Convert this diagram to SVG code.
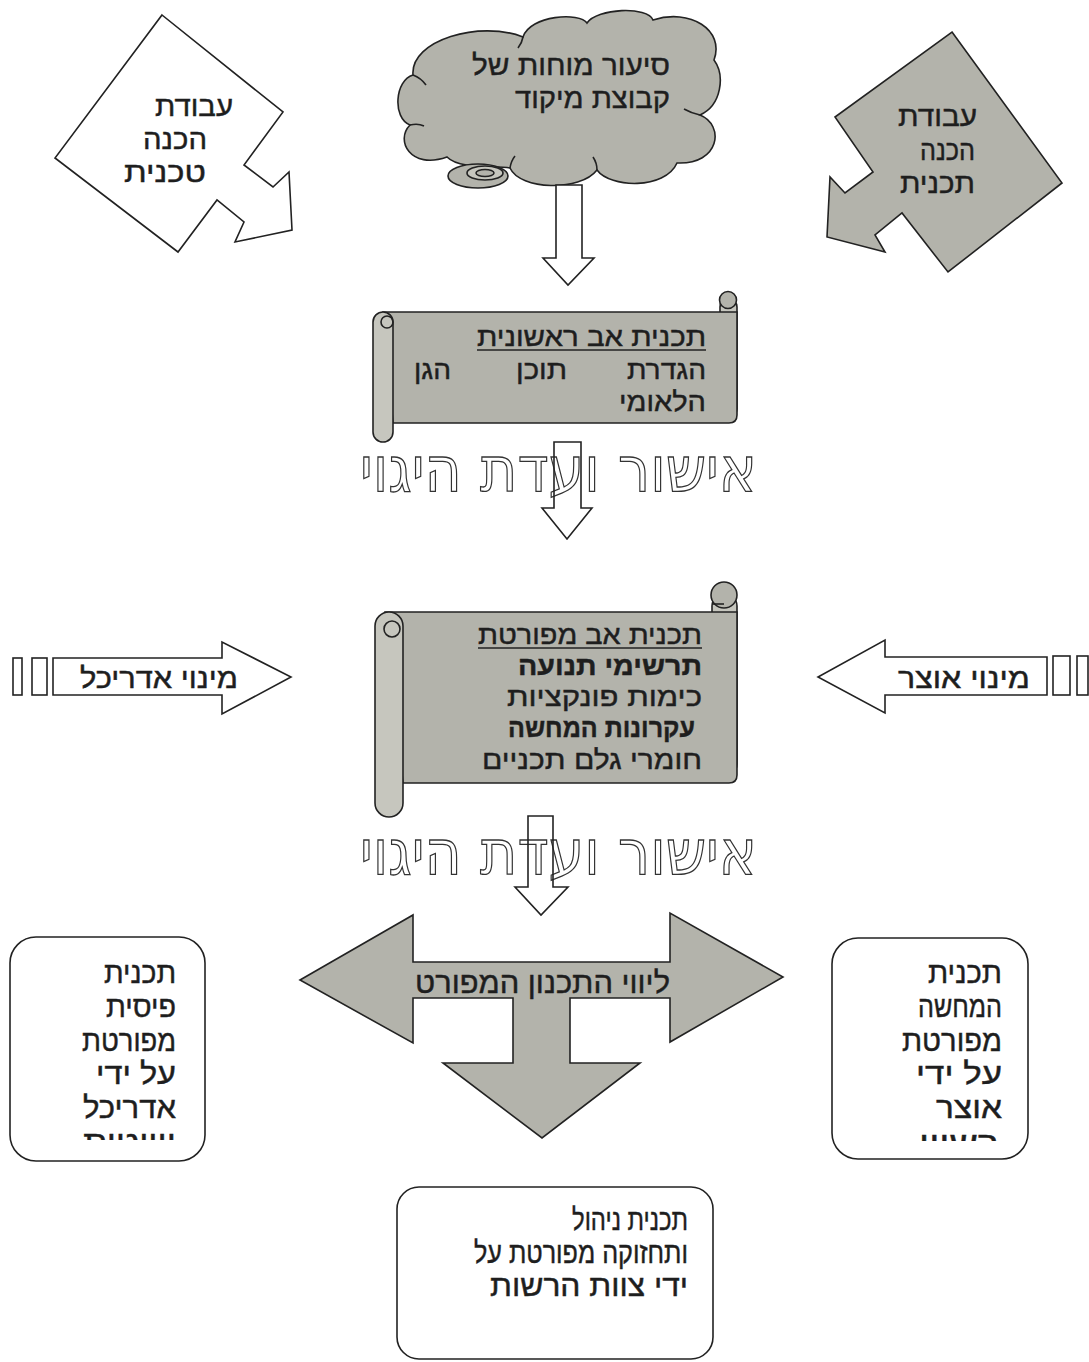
<svg xmlns="http://www.w3.org/2000/svg" width="1089" height="1362" viewBox="0 0 1089 1362">
<style>
.t{font-family:"Liberation Sans","DejaVu Sans",sans-serif;fill:#1e1e1e;stroke:#1e1e1e;stroke-width:0.45;text-anchor:end;}
.s{stroke:#222;stroke-width:1.6;stroke-linejoin:miter;}
.w{fill:#ffffff;}
.g{fill:#b3b3ab;}
.gl{fill:#c6c6be;}
.n{fill:none;}
.big{font-family:"DejaVu Sans","Liberation Sans",sans-serif;fill:#ffffff;stroke:#333;stroke-width:1.3;text-anchor:end;}
.b{font-weight:bold;}
</style>
<defs>
<clipPath id="clipL"><rect x="10" y="1124" width="195" height="16"/></clipPath>
<clipPath id="clipR"><rect x="832" y="1124" width="196" height="17"/></clipPath>
</defs>
<rect width="1089" height="1362" fill="#ffffff"/>

<g id="prep-technical">
<path class="s w" d="M162,15 L283,112 L244,165 L273,187 L289,172 L292,230 L235,242 L244,222 L217,200 L178,252 L55,158 Z"/>
<text class="t" x="233" y="116" font-size="28" textLength="78" lengthAdjust="spacingAndGlyphs">עבודת</text>
<text class="t" x="207" y="149" font-size="28" textLength="64" lengthAdjust="spacingAndGlyphs">הכנה</text>
<text class="t" x="206" y="182" font-size="28" textLength="82" lengthAdjust="spacingAndGlyphs">טכנית</text>
</g>

<g id="brainstorm">
<path class="s g" d="M410,125 C392,118 395,80 413,75 C410,40 480,20 523,37 C530,15 580,12 587,23 C597,8 648,6 653,20 C690,8 725,30 714,60 C725,75 722,105 700,115 C725,125 720,165 677,163 C665,190 610,188 597,170 C580,192 520,190 510,168 C495,165 460,170 447,157 C410,170 395,140 410,125 Z"/>
<path class="s n" d="M413,75 Q421,78 426,85 M523,37 Q522,43 518,48 M700,115 Q691,113 684,109 M597,170 Q597,163 593,157 M510,168 Q511,161 515,156 M410,125 Q418,123 424,126"/>
<ellipse class="s g" cx="478" cy="176" rx="30" ry="12"/>
<ellipse class="s gl" cx="485" cy="173" rx="18" ry="7"/>
<ellipse class="s g" cx="485" cy="173" rx="9" ry="3.5"/>
<text class="t" x="670" y="75" font-size="28" textLength="198" lengthAdjust="spacingAndGlyphs">סיעור מוחות של</text>
<text class="t" x="670" y="108" font-size="28" textLength="155" lengthAdjust="spacingAndGlyphs">קבוצת מיקוד</text>
</g>

<g id="prep-plan">
<path class="s g" d="M952,32 L1062,183 L948,272 L902,213 L875,235 L885,252 L827,237 L830,177 L845,193 L873,172 L835,117 Z"/>
<text class="t" x="977" y="126" font-size="28" textLength="79" lengthAdjust="spacingAndGlyphs">עבודת</text>
<text class="t" x="975" y="160" font-size="28" textLength="55" lengthAdjust="spacingAndGlyphs">הכנה</text>
<text class="t" x="975" y="193" font-size="28" textLength="75" lengthAdjust="spacingAndGlyphs">תכנית</text>
</g>

<g id="connectors">
<path class="s w" d="M556,185 H582 V258 H594 L568,285 L543,258 H556 Z"/>
<path class="s w" d="M53,658 H222 V642 L291,677 L222,714 V695 H53 Z"/>
<rect class="s w" x="13" y="658" width="9" height="37"/>
<rect class="s w" x="32" y="658" width="15" height="37"/>
<path class="s w" d="M1047,657 H885 V640 L818,677 L885,713 V695 H1047 Z"/>
<rect class="s w" x="1053" y="656" width="17" height="39"/>
<rect class="s w" x="1077" y="656" width="11" height="39"/>
</g>

<g id="master-plan-initial">
<rect class="s gl" x="720" y="299" width="17" height="118" rx="8"/>
<path class="s g" d="M383,312 H737 V415 Q737,423 729,423 H393 Z"/>
<circle class="s g" cx="728" cy="300" r="8.5"/>
<rect class="s gl" x="373" y="312" width="20" height="130" rx="10"/>
<circle class="s n" cx="387" cy="322" r="6"/>
<text class="t" x="706" y="346" font-size="27" textLength="229" lengthAdjust="spacingAndGlyphs">תכנית אב ראשונית</text>
<line class="s" x1="477" y1="350" x2="706" y2="350" stroke-width="1.4"/>
<text class="t" x="706" y="379" font-size="27" textLength="79" lengthAdjust="spacingAndGlyphs">הגדרת</text>
<text class="t" x="567" y="379" font-size="27" textLength="51" lengthAdjust="spacingAndGlyphs">תוכן</text>
<text class="t" x="451" y="379" font-size="27" textLength="37" lengthAdjust="spacingAndGlyphs">הגן</text>
<text class="t" x="706" y="411" font-size="27" textLength="87" lengthAdjust="spacingAndGlyphs">הלאומי</text>
</g>

<g id="approval-1">
<text class="big" x="757" y="491" font-size="63" textLength="397" lengthAdjust="spacingAndGlyphs">אישור ועדת היגוי</text>
<path class="s n" d="M554,442 H581 V508 H592 L567,539 L542,508 H554 Z"/>
</g>

<g id="master-plan-detailed">
<rect class="s gl" x="712" y="594" width="25" height="182" rx="12"/>
<path class="s g" d="M385,612 H737 V775 Q737,783 729,783 H403 Z"/>
<circle class="s g" cx="724" cy="595" r="13"/>
<path class="s n" d="M712,604 H724"/>
<rect class="s gl" x="375" y="612" width="28" height="205" rx="14"/>
<circle class="s n" cx="392" cy="629" r="8"/>
<text class="t" x="702" y="644" font-size="27" textLength="224" lengthAdjust="spacingAndGlyphs">תכנית אב מפורטת</text>
<line class="s" x1="478" y1="648" x2="702" y2="648" stroke-width="1.4"/>
<text class="t b" x="702" y="675" font-size="27" textLength="184" lengthAdjust="spacingAndGlyphs">תרשימי תנועה</text>
<text class="t" x="702" y="706" font-size="27" textLength="195" lengthAdjust="spacingAndGlyphs">כימות פונקציות</text>
<text class="t b" x="695" y="737" font-size="27" textLength="187" lengthAdjust="spacingAndGlyphs">עקרונות המחשה</text>
<text class="t" x="702" y="769" font-size="27" textLength="220" lengthAdjust="spacingAndGlyphs">חומרי גלם תכניים</text>
</g>

<g id="architect">
<text class="t" x="238" y="688" font-size="28" textLength="158" lengthAdjust="spacingAndGlyphs">מינוי אדריכל</text>
</g>

<g id="curator">
<text class="t" x="1030" y="688" font-size="28" textLength="132" lengthAdjust="spacingAndGlyphs">מינוי אוצר</text>
</g>

<g id="approval-2">
<text class="big" x="757" y="874" font-size="63" textLength="397" lengthAdjust="spacingAndGlyphs">אישור ועדת היגוי</text>
<path class="s n" d="M528,816 H553 V887 H568 L541,915 L515,887 H528 Z"/>
</g>

<g id="detailed-planning">
<path class="s g" d="M300,980 L413,915 L413,962 L670,962 L670,913 L783,977 L670,1042 L670,998 L570,998 L570,1063 L640,1063 L542,1138 L443,1063 L513,1063 L513,998 L413,998 L413,1043 Z"/>
<text class="t" x="670" y="993" font-size="30" textLength="255" lengthAdjust="spacingAndGlyphs">ליווי התכנון המפורט</text>
</g>

<g id="physical-plan">
<rect class="s w" x="10" y="937" width="195" height="224" rx="26"/>
<text class="t" x="176" y="983" font-size="30" textLength="72" lengthAdjust="spacingAndGlyphs">תכנית</text>
<text class="t" x="176" y="1017" font-size="30" textLength="70" lengthAdjust="spacingAndGlyphs">פיסית</text>
<text class="t" x="176" y="1051" font-size="30" textLength="94" lengthAdjust="spacingAndGlyphs">מפורטת</text>
<text class="t" x="176" y="1084" font-size="30" textLength="80" lengthAdjust="spacingAndGlyphs">על ידי</text>
<text class="t" x="176" y="1118" font-size="30" textLength="93" lengthAdjust="spacingAndGlyphs">אדריכל</text>
<g clip-path="url(#clipL)"><text class="t" x="176" y="1152" font-size="30" textLength="93" lengthAdjust="spacingAndGlyphs">ויווטית</text></g>
</g>

<g id="display-plan">
<rect class="s w" x="832" y="938" width="196" height="221" rx="26"/>
<text class="t" x="1002" y="983" font-size="30" textLength="74" lengthAdjust="spacingAndGlyphs">תכנית</text>
<text class="t" x="1002" y="1017" font-size="30" textLength="84" lengthAdjust="spacingAndGlyphs">המחשה</text>
<text class="t" x="1002" y="1051" font-size="30" textLength="100" lengthAdjust="spacingAndGlyphs">מפורטת</text>
<text class="t" x="1002" y="1084" font-size="30" textLength="86" lengthAdjust="spacingAndGlyphs">על ידי</text>
<text class="t" x="1002" y="1118" font-size="30" textLength="66" lengthAdjust="spacingAndGlyphs">אוצר</text>
<g clip-path="url(#clipR)"><text class="t" x="999" y="1153" font-size="30" textLength="80" lengthAdjust="spacingAndGlyphs">רשויי</text></g>
</g>

<g id="maintenance-plan">
<rect class="s w" x="397" y="1187" width="316" height="172" rx="22"/>
<text class="t" x="688" y="1230" font-size="30" textLength="116" lengthAdjust="spacingAndGlyphs">תכנית ניהול</text>
<text class="t" x="688" y="1263" font-size="30" textLength="214" lengthAdjust="spacingAndGlyphs">ותחזוקה מפורטת על</text>
<text class="t" x="688" y="1296" font-size="30" textLength="198" lengthAdjust="spacingAndGlyphs">ידי צוות הרשות</text>
</g>
</svg>
